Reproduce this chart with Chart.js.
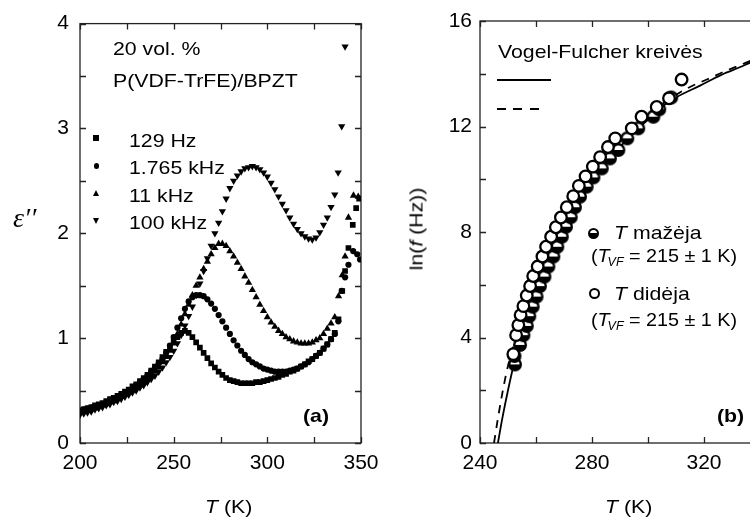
<!DOCTYPE html>
<html>
<head>
<meta charset="utf-8">
<script src="https://cdn.jsdelivr.net/npm/chart.js@4.4.1/dist/chart.umd.min.js"></script>
<style>
  html, body { margin: 0; padding: 0; background: #fff; }
  #wrap { position: relative; width: 750px; height: 517px; overflow: hidden; background: #fff; }
  canvas { position: absolute; top: 0; }
  #chartA { left: 0; }
  #chartB { left: 380px; }
  .t { position: absolute; font-family: 'Liberation Sans', Arial, sans-serif; font-size: 19px; line-height: 19px;
       color: #000; white-space: nowrap; transform: scaleX(1.12); transform-origin: 0 50%; }
  .b { font-weight: bold; }
  .t sub { font-size: 12px; font-style: italic; vertical-align: -4px; line-height: 0; margin-left: -2px; }
  .eps { position: absolute; font-family: 'Liberation Serif', serif; font-style: italic; font-size: 28px; line-height: 28px; color: #000; }
  .mk { position: absolute; }
</style>
</head>
<body>
<div id="wrap">
  <canvas id="chartA" width="400" height="517"></canvas>
  <canvas id="chartB" width="400" height="517"></canvas>

  <!-- panel (a) annotations -->
  <div class="t" style="left:113px; top:39px">20 vol. %</div>
  <div class="t" style="left:113px; top:71px">P(VDF-TrFE)/BPZT</div>
  <div class="mk" style="left:93px; top:135px; width:5.5px; height:5.5px; background:#000"></div>
  <div class="mk" style="left:93.5px; top:163px; width:5.5px; height:5.5px; border-radius:50%; background:#000"></div>
  <div class="mk" style="left:92.8px; top:190px; width:0; height:0; border-left:3.5px solid transparent; border-right:3.5px solid transparent; border-bottom:6px solid #000"></div>
  <div class="mk" style="left:92.8px; top:218px; width:0; height:0; border-left:3.5px solid transparent; border-right:3.5px solid transparent; border-top:6px solid #000"></div>
  <div class="t" style="left:129px; top:130.5px">129 Hz</div>
  <div class="t" style="left:129px; top:158px">1.765 kHz</div>
  <div class="t" style="left:129px; top:185.5px">11 kHz</div>
  <div class="t" style="left:129px; top:213px">100 kHz</div>
  <div class="t b" style="left:303px; top:405.5px">(a)</div>
  <div class="t" style="left:205px; top:497px"><i>T</i> (K)</div>
  <div class="eps" style="left:13px; top:204px">ε′′</div>

  <!-- panel (b) annotations -->
  <div class="t" style="left:498px; top:42px">Vogel-Fulcher kreivės</div>
  <div class="mk" style="left:497px; top:78.7px; width:54px; height:2px; background:#000"></div>
  <div class="mk" style="left:497px; top:107.7px; width:44px; height:2px; background:repeating-linear-gradient(to right, #000 0 9px, transparent 9px 16.5px)"></div>
  <div class="mk" style="left:587.5px; top:227.5px; width:7px; height:7px; border:2px solid #000; border-radius:50%; background:linear-gradient(#fff 50%, #000 50%)"></div>
  <div class="t" style="left:614px; top:222.5px"><i>T</i> mažėja</div>
  <div class="t" style="left:591px; top:245.5px; transform:scaleX(1.04)">(<i>T</i><sub>VF</sub> = 215 ± 1 K)</div>
  <div class="mk" style="left:588.5px; top:287.5px; width:7px; height:7px; border:2px solid #000; border-radius:50%; background:#fff"></div>
  <div class="t" style="left:614px; top:284px"><i>T</i> didėja</div>
  <div class="t" style="left:591px; top:309.5px; transform:scaleX(1.04)">(<i>T</i><sub>VF</sub> = 215 ± 1 K)</div>
  <div class="t b" style="left:717px; top:405.5px">(b)</div>
  <div class="t" style="left:605px; top:497px"><i>T</i> (K)</div>
  <div class="t" style="left:416px; top:229px; transform:translate(-50%,-50%) rotate(-90deg) scaleX(1.12); transform-origin:50% 50%">ln(<i>f</i> (Hz))</div>
</div>

<script>
// (a) dielectric loss
const tGrid = [200, 202, 204, 206, 208, 210, 212, 214, 216, 218,
               220, 222, 224, 226, 228, 230, 232, 234, 236, 238,
               240, 242, 244, 246, 248, 250, 252, 254, 256, 258,
               260, 262, 264, 266, 268, 270, 272, 274, 276, 278,
               280, 282, 284, 286, 288, 290, 292, 294, 296, 298,
               300, 302, 304, 306, 308, 310, 312, 314, 316, 318,
               320, 322, 324, 326, 328, 330, 332, 334, 336];

const eps129 = [0.31, 0.32, 0.33, 0.34, 0.36, 0.37, 0.38, 0.40, 0.42, 0.43,
                0.45, 0.47, 0.49, 0.51, 0.54, 0.56, 0.59, 0.62, 0.65, 0.69,
                0.73, 0.77, 0.82, 0.87, 0.92, 0.97, 1.01, 1.05, 1.07, 1.05,
                1.01, 0.96, 0.91, 0.86, 0.81, 0.76, 0.72, 0.68, 0.65, 0.62,
                0.60, 0.59, 0.58, 0.57, 0.57, 0.57, 0.57, 0.58, 0.58, 0.59,
                0.60, 0.61, 0.62, 0.63, 0.65, 0.66, 0.68, 0.69, 0.71, 0.73,
                0.75, 0.78, 0.80, 0.83, 0.86, 0.90, 0.94, 0.99, 1.05];
const eps1765 = [0.31, 0.32, 0.33, 0.34, 0.35, 0.36, 0.37, 0.39, 0.40, 0.42,
                 0.44, 0.46, 0.48, 0.50, 0.52, 0.55, 0.58, 0.61, 0.64, 0.68,
                 0.72, 0.76, 0.80, 0.86, 0.93, 1.01, 1.10, 1.19, 1.28, 1.35,
                 1.39, 1.41, 1.41, 1.40, 1.37, 1.33, 1.28, 1.22, 1.16, 1.10,
                 1.04, 0.98, 0.93, 0.88, 0.84, 0.80, 0.77, 0.75, 0.73, 0.71,
                 0.70, 0.69, 0.68, 0.68, 0.68, 0.68, 0.69, 0.70, 0.71, 0.73,
                 0.75, 0.77, 0.80, 0.83, 0.86, 0.90, 0.94, 0.99, 1.04];
const eps11k = [0.29, 0.30, 0.31, 0.32, 0.33, 0.35, 0.36, 0.37, 0.39, 0.40,
                0.42, 0.44, 0.46, 0.48, 0.50, 0.53, 0.55, 0.58, 0.61, 0.64,
                0.68, 0.72, 0.77, 0.82, 0.88, 0.95, 1.04, 1.13, 1.23, 1.32,
                1.41, 1.50, 1.58, 1.66, 1.73, 1.80, 1.86, 1.90, 1.90, 1.88,
                1.83, 1.78, 1.72, 1.66, 1.59, 1.53, 1.46, 1.39, 1.32, 1.26,
                1.20, 1.15, 1.11, 1.07, 1.04, 1.01, 0.99, 0.97, 0.96, 0.95,
                0.95, 0.95, 0.96, 0.98, 1.00, 1.04, 1.09, 1.14, 1.20];
const eps100k = [0.27, 0.28, 0.29, 0.30, 0.32, 0.33, 0.34, 0.36, 0.37, 0.39,
                 0.40, 0.42, 0.44, 0.46, 0.48, 0.50, 0.53, 0.55, 0.58, 0.61,
                 0.64, 0.68, 0.72, 0.77, 0.82, 0.88, 0.95, 1.03, 1.12, 1.21,
                 1.30, 1.41, 1.52, 1.64, 1.76, 1.88, 2.00, 2.10, 2.21, 2.33,
                 2.43, 2.50, 2.55, 2.59, 2.62, 2.63, 2.64, 2.63, 2.61, 2.58,
                 2.54, 2.48, 2.42, 2.35, 2.28, 2.22, 2.15, 2.09, 2.04, 2.00,
                 1.97, 1.95, 1.94, 1.96, 2.01, 2.08, 2.15, 2.25, 2.37];

// the scattered points above 336 K
const t129Tail = [338, 340, 341.5, 343.3, 345.6, 347.4, 349];
const eps129Tail = [1.18, 1.45, 1.64, 1.86, 2.08, 2.24, 2.33];
const t1765Tail = [337.9, 339.7, 341.5, 343.3, 345.8, 348, 349.5];
const eps1765Tail = [1.16, 1.45, 1.58, 1.70, 1.83, 1.80, 1.75];
const t11kTail = [338, 340, 341.5, 343.3, 346, 348.5];
const eps11kTail = [1.40, 1.60, 1.78, 2.15, 2.36, 2.35];
const t100kTail = [337.8, 339.7, 341.5];
const eps100kTail = [2.58, 3.02, 3.78];

// (b) ln f vs T
const openT = [251.9, 252.9, 253.7, 254.5, 255.5, 256.7, 257.9, 259.0, 260.6, 262.3,
               263.6, 265.4, 267.1, 268.9, 271.0, 273.3, 275.3, 277.7, 280.3, 282.9,
               285.7, 288.3, 294.2, 297.7, 303.1, 307.5, 312.0];
const openLnF = [3.37, 4.09, 4.47, 4.85, 5.19, 5.59, 5.95, 6.33, 6.69, 7.07,
                 7.44, 7.82, 8.18, 8.55, 8.94, 9.36, 9.75, 10.11, 10.48, 10.84,
                 11.22, 11.55, 11.93, 12.37, 12.74, 13.07, 13.78];
const halfT = [252.5, 252.3, 254.3, 255.5, 256.7, 257.6, 258.8, 260.2, 261.4, 263.0,
               264.4, 266.2, 267.6, 269.2, 270.7, 272.4, 273.9, 275.7, 278.1, 280.5,
               283.5, 286.4, 289.4, 292.6, 296.5, 301.9, 304.0, 308.3];
const halfLnF = [2.98, 3.30, 3.72, 4.09, 4.44, 4.81, 5.17, 5.55, 5.95, 6.31,
                 6.69, 7.07, 7.44, 7.82, 8.20, 8.56, 8.94, 9.34, 9.72, 10.07,
                 10.41, 10.79, 11.11, 11.55, 11.93, 12.37, 12.65, 13.10];
const vfSolidT = [246.4, 248, 250, 252, 254, 256, 258, 260, 262, 264,
                  266, 268, 270, 273, 276, 280, 284, 288, 292, 296,
                  300, 305, 310, 318.6, 326, 334.6, 340];
const vfSolidLnF = [0, 0.95, 2.0, 2.95, 3.7, 4.35, 4.95, 5.55, 6.1, 6.6,
                    7.05, 7.5, 7.95, 8.55, 9.15, 10.0, 10.55, 11.0, 11.45, 11.9,
                    12.25, 12.75, 13.1, 13.55, 13.95, 14.33, 14.6];
const vfDashT = [245, 246.5, 248, 249.5, 251, 253, 255, 257, 259, 261,
                 263, 265, 268, 271, 275, 280, 285, 290, 295, 300,
                 305, 310, 315, 321, 328, 334.6, 340];
const vfDashLnF = [0, 1.0, 1.9, 2.7, 3.35, 4.1, 4.8, 5.45, 6.05, 6.6,
                   7.1, 7.55, 8.2, 8.8, 9.55, 10.35, 11.0, 11.6, 12.05, 12.5,
                   12.85, 13.2, 13.5, 13.78, 14.12, 14.4, 14.65];

const pts = (xs, ys) => xs.map((x, i) => ({ x: x, y: ys[i] }));

const tickFont = { family: "'Liberation Sans', Arial, sans-serif", size: 21 };

// box round the plot with short ticks pointing inwards on all sides
const frameTicks = {
    id: 'frameTicks',
    beforeDatasetsDraw(chart, args, opts) {
        const { ctx, chartArea: a, scales } = chart;
        const x = scales.x, y = scales.y;
        ctx.save();
        ctx.strokeStyle = '#222';
        ctx.lineWidth = 1.3;
        ctx.strokeRect(a.left, a.top, a.right - a.left, a.bottom - a.top);
        ctx.beginPath();
        for (let v = x.min; v <= x.max + 1e-6; v += opts.xStep) {
            const px = Math.round(x.getPixelForValue(v)) + 0.5;
            ctx.moveTo(px, a.bottom); ctx.lineTo(px, a.bottom - 6);
            ctx.moveTo(px, a.top); ctx.lineTo(px, a.top + 6);
        }
        for (let v = y.min; v <= y.max + 1e-6; v += opts.yStep) {
            const py = Math.round(y.getPixelForValue(v)) + 0.5;
            ctx.moveTo(a.left, py); ctx.lineTo(a.left + 6, py);
            ctx.moveTo(a.right, py); ctx.lineTo(a.right - 6, py);
        }
        ctx.stroke();
        ctx.restore();
    }
};

// half filled circle for "T mažėja"
const halfDot = document.createElement('canvas');
halfDot.width = 16; halfDot.height = 16;
const hc = halfDot.getContext('2d');
hc.fillStyle = '#fff';
hc.beginPath(); hc.arc(8, 8, 5.8, 0, 2 * Math.PI); hc.fill();
hc.fillStyle = '#000';
hc.beginPath(); hc.arc(8, 8, 5.8, 0, Math.PI); hc.fill();
hc.lineWidth = 2.4; hc.strokeStyle = '#000';
hc.beginPath(); hc.arc(8, 8, 5.8, 0, 2 * Math.PI); hc.stroke();

const chartA = new Chart(document.getElementById('chartA'), {
    type: 'scatter',
    data: {
        datasets: [
            { label: '129 Hz', data: pts(tGrid.concat(t129Tail), eps129.concat(eps129Tail)),
              pointStyle: 'rect', pointRadius: 4, backgroundColor: '#000', borderWidth: 0 },
            { label: '1.765 kHz', data: pts(tGrid.concat(t1765Tail), eps1765.concat(eps1765Tail)),
              pointStyle: 'circle', pointRadius: 3.1, backgroundColor: '#000', borderWidth: 0 },
            { label: '11 kHz', data: pts(tGrid.concat(t11kTail), eps11k.concat(eps11kTail)),
              pointStyle: 'triangle', pointRadius: 4.2, backgroundColor: '#000', borderWidth: 0 },
            { label: '100 kHz', data: pts(tGrid.concat(t100kTail), eps100k.concat(eps100kTail)),
              pointStyle: 'triangle', pointRotation: 180, pointRadius: 4.2, backgroundColor: '#000', borderWidth: 0 }
        ]
    },
    options: {
        responsive: false,
        animation: false,
        layout: { padding: { top: 21, right: 39, bottom: 0, left: 0 } },
        plugins: { legend: { display: false }, tooltip: { enabled: false }, frameTicks: { xStep: 25, yStep: 0.5 } },
        scales: {
            x: {
                type: 'linear', min: 200, max: 350,
                afterFit: s => { s.height = 74; },
                grid: { display: false, drawTicks: false },
                border: { display: false },
                ticks: { stepSize: 50, padding: 8, color: '#000', font: tickFont, maxRotation: 0 }
            },
            y: {
                min: 0, max: 4,
                afterFit: s => { s.width = 80; },
                grid: { display: false, drawTicks: false },
                border: { display: false },
                ticks: { stepSize: 1, padding: 11, color: '#000', font: tickFont }
            }
        }
    },
    plugins: [frameTicks]
});

const chartB = new Chart(document.getElementById('chartB'), {
    type: 'scatter',
    data: {
        datasets: [
            { label: 'T didėja', data: pts(openT, openLnF), order: 0,
              pointStyle: 'circle', pointRadius: 5.8, backgroundColor: '#fff', borderColor: '#000', borderWidth: 2.3 },
            { label: 'T mažėja', data: pts(halfT, halfLnF), order: 1,
              pointStyle: halfDot, pointRadius: 6 },
            { label: 'VF 1', data: pts(vfSolidT, vfSolidLnF), order: 2, showLine: true,
              pointRadius: 0, borderColor: '#000', borderWidth: 1.8, cubicInterpolationMode: 'monotone' },
            { label: 'VF 2', data: pts(vfDashT, vfDashLnF), order: 3, showLine: true,
              pointRadius: 0, borderColor: '#000', borderWidth: 1.8, borderDash: [8, 7], cubicInterpolationMode: 'monotone' }
        ]
    },
    options: {
        responsive: false,
        animation: false,
        layout: { padding: { top: 21, right: 20, bottom: 0, left: 0 } },
        plugins: { legend: { display: false }, tooltip: { enabled: false }, frameTicks: { xStep: 20, yStep: 2 } },
        scales: {
            x: {
                type: 'linear', min: 240, max: 340,
                afterFit: s => { s.height = 74; },
                grid: { display: false, drawTicks: false },
                border: { display: false },
                ticks: { stepSize: 40, padding: 8, color: '#000', font: tickFont, maxRotation: 0,
                         callback: v => (v % 40 === 0 ? v : '') }
            },
            y: {
                min: 0, max: 16,
                afterFit: s => { s.width = 100; },
                grid: { display: false, drawTicks: false },
                border: { display: false },
                ticks: { stepSize: 4, padding: 8, color: '#000', font: tickFont }
            }
        }
    },
    plugins: [frameTicks]
});
</script>
</body>
</html>
